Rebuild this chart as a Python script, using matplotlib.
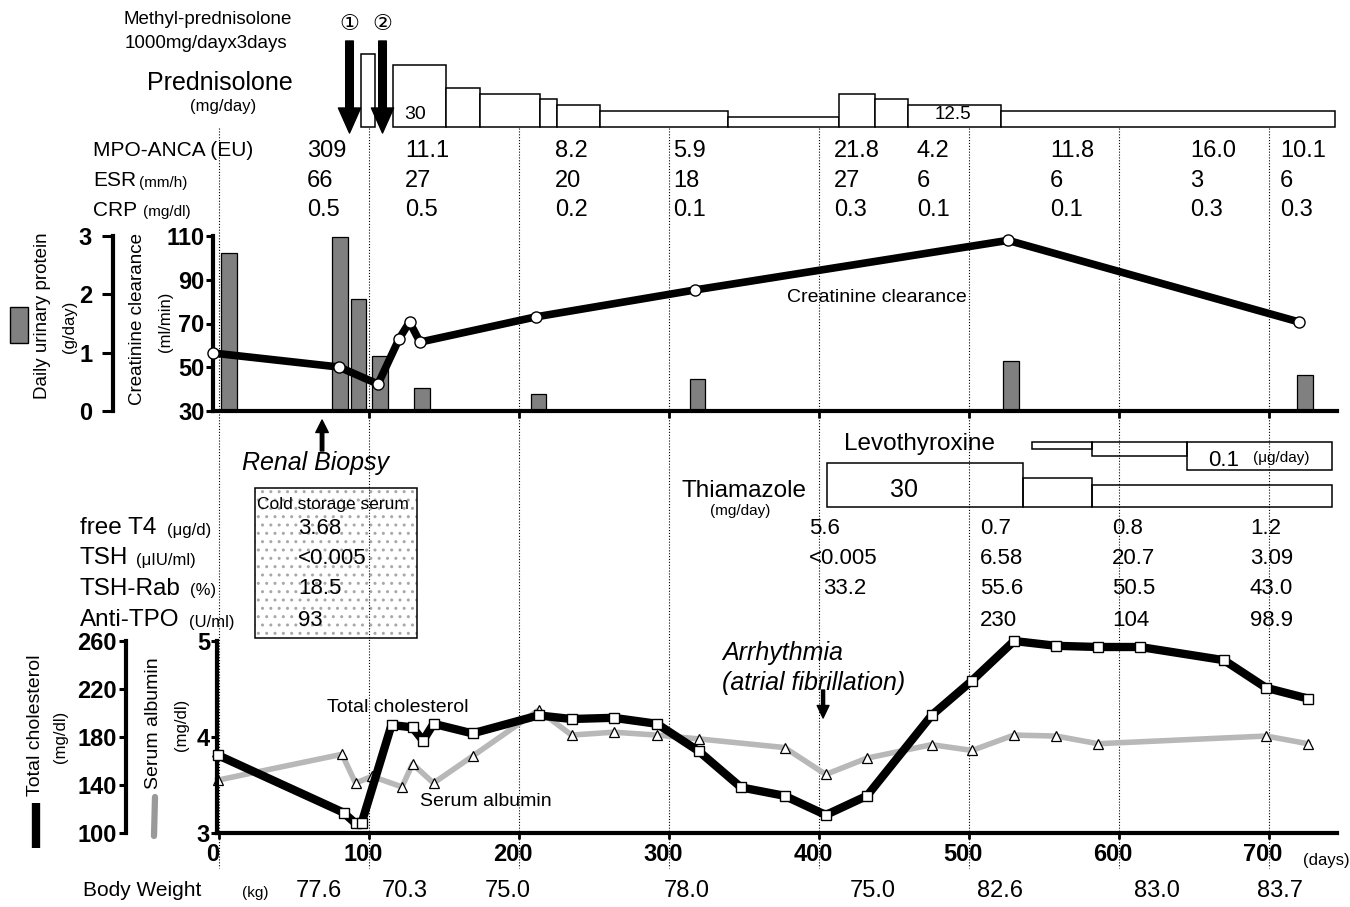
import matplotlib

matplotlib.use("Agg")
import matplotlib.pyplot as plt
from matplotlib.lines import Line2D
from matplotlib.patches import Rectangle
from matplotlib.transforms import ScaledTranslation

plt.rcParams["font.family"] = ["Liberation Sans", "DejaVu Sans", "Noto Sans CJK JP"]

W, H = 1350, 907
XL = (-4, 745.3)            # day range of the shared time axis
GRID_DAYS = [0, 100, 200, 300, 400, 500, 600, 700]

# ---- steroid therapy (days, mg/day) ----
PRED_START = [116, 151, 174, 214, 225, 254, 339, 413, 437, 459, 521]
PRED_END = [151, 174, 214, 225, 254, 339, 413, 437, 459, 521, 744]
PRED_DOSE = [30, 20, 17.5, 15, 12.5, 10, 7.5, 17.5, 15, 12.5, 10]
MP_START, MP_END = 94.7, 104
PULSE_DAYS = [87, 109]
PULSE_MARKS = ["①", "②"]

# ---- vasculitis labs ----
LAB_DAYS = [58.7, 124, 224, 302.7, 410, 465.3, 554, 647.3, 707.3]
MPO = ["309", "11.1", "8.2", "5.9", "21.8", "4.2", "11.8", "16.0", "10.1"]
ESR = ["66", "27", "20", "18", "27", "6", "6", "3", "6"]
CRP = ["0.5", "0.5", "0.2", "0.1", "0.3", "0.1", "0.1", "0.3", "0.3"]

# ---- renal ----
CCR_DAYS = [-4, 80, 106, 120, 127, 134, 211, 317, 526, 720]
CCR = [56.5, 50.1, 42.3, 62.9, 70.7, 61.5, 73, 85.3, 108, 70.7]
PROT_DAYS = [6.7, 80.7, 93, 107.3, 135.3, 213, 319, 528, 724]
PROT = [2.71, 2.98, 1.92, 0.94, 0.39, 0.29, 0.55, 0.86, 0.62]
BIOPSY_DAY = 68.7

# ---- thyroid ----
LEVO_START = [542, 582, 645]
LEVO_END = [582, 645, 742]
LEVO_DOSE = [0.025, 0.05, 0.1]
THIA_START = [405, 536, 582]
THIA_END = [536, 582, 742]
THIA_DOSE = [30, 20, 15]
COLD_DAY = 52.7
COLD = ["3.68", "<0.005", "18.5", "93"]
THY_DAYS = [393.3, 507.3, 595.3, 687.3]
FT4 = ["5.6", "0.7", "0.8", "1.2"]
TSH = ["<0.005", "6.58", "20.7", "3.09"]
TRAB = ["33.2", "55.6", "50.5", "43.0"]
TRAB_DAYS = [403, 507.3, 595.3, 687.3]
TPO = ["", "230", "104", "98.9"]

# ---- cholesterol / albumin ----
CHOL_DAYS = [-1, 83, 91, 95, 115, 129, 136, 143, 169, 213, 235, 263, 292, 320,
             348, 377, 404.5, 432, 475, 502, 530, 558, 586, 614, 670, 698, 726]
CHOL = [165, 117, 108, 108, 190, 188, 177, 191, 183, 198, 195, 196, 191, 168,
        138, 131, 115, 131, 198, 227, 260, 256, 255, 255, 244, 221, 212]
ALB_DAYS = [-1, 82, 91, 102, 122, 129, 143, 169, 213, 235, 263, 292, 320, 377,
            404.5, 432, 475, 502, 530, 558, 586, 698, 726]
ALB = [3.55, 3.82, 3.52, 3.59, 3.48, 3.72, 3.52, 3.80, 4.28, 4.02, 4.05, 4.02,
       3.98, 3.89, 3.61, 3.78, 3.92, 3.86, 4.02, 4.01, 3.93, 4.01, 3.93]
AF_DAY = 402.7

BW_DAYS = [51.3, 108.7, 177.3, 296.7, 420.7, 505.3, 610, 692]
BW = ["77.6", "70.3", "75.0", "78.0", "75.0", "82.6", "83.0", "83.7"]

fig = plt.figure(figsize=(W / 100, H / 100), dpi=100)


def px_axes(left, top, right, bottom):
    return fig.add_axes([left / W, 1 - bottom / H, (right - left) / W, (bottom - top) / H])


def ftext(x, y, s, size, ha="left", **kw):
    fig.text(x / W, 1 - y / H, s, fontsize=size, ha=ha, va="center", **kw)


def fy(y):
    return 1 - y / H


# background layer: x = days, y = pixel rows from the top
bg = px_axes(213, 0, 1337, 907)
bg.set_xlim(XL)
bg.set_ylim(H, 0)
bg.axis("off")
bg.set_zorder(0)
bg.vlines(GRID_DAYS, 128, 868, colors="k", linestyles=(0, (1, 1.6)), lw=0.8)

# ---------------- prednisolone ----------------
pred = px_axes(213, 20, 1337, 127)
pred.set_xlim(XL)
pred.set_ylim(3, 49.5)
pred.axis("off")
pred.set_zorder(3)
MP_DRAW_LEVEL = 34.7   # off-scale pulse box
pred.bar([MP_START], [MP_DRAW_LEVEL - 3], width=MP_END - MP_START, bottom=3, align="edge",
         fc="white", ec="k", lw=1.1, clip_on=False)
pred.bar(PRED_START, [d - 3 for d in PRED_DOSE], width=[e - s for s, e in zip(PRED_START, PRED_END)],
         bottom=3, align="edge", fc="white", ec="k", lw=1.1, clip_on=False)
for d, m in zip(PULSE_DAYS, PULSE_MARKS):
    pred.annotate("", xy=(d, fy(133)), xycoords=("data", "figure fraction"),
                  xytext=(d, fy(41)), textcoords=("data", "figure fraction"),
                  arrowprops=dict(fc="k", ec="k", width=5.5, headwidth=16, headlength=18, shrink=0),
                  annotation_clip=False)
    bg.text(d, 25, m, fontsize=16, ha="center", va="center")
for d, s, size in ((131, "30", 14), (489, "12.5", 13.5)):
    pred.annotate(s, xy=(d, fy(115)), xycoords=("data", "figure fraction"),
                  fontsize=size, ha="center", va="center", annotation_clip=False)

ftext(208, 20, "Methyl-prednisolone", 13.5, ha="center")
ftext(206, 44, "1000mg/dayx3days", 13.5, ha="center")
ftext(220, 83, "Prednisolone", 18, ha="center")
ftext(223, 107, "(mg/day)", 12, ha="center")

# ---------------- lab rows ----------------
ftext(93, 151, "MPO-ANCA (EU)", 15)
ftext(93, 181, "ESR", 15)
ftext(139, 183, "(mm/h)", 11)
ftext(93, 210, "CRP", 15)
ftext(143, 212, "(mg/dl)", 11)
for row, y in ((MPO, 151), (ESR, 181), (CRP, 210)):
    for d, s in zip(LAB_DAYS, row):
        bg.text(d, y, s, fontsize=17, ha="left", va="center")

# ---------------- creatinine clearance / proteinuria ----------------
top = px_axes(213, 236, 1337, 411)
prot = top.twinx()
top.set_xlim(XL)
top.set_ylim(30, 110)
prot.set_ylim(0, 3)
prot.set_zorder(2)
top.set_zorder(4)
top.patch.set_visible(False)
prot.patch.set_visible(False)

prot.bar(PROT_DAYS, PROT, width=10.5, color="#808080", ec="k", lw=0.9)
top.plot(CCR_DAYS, CCR, "-o", color="k", lw=5.5, ms=8, mfc="white", mec="k", mew=1,
         clip_on=False, zorder=3)

for s in ("top", "right"):
    top.spines[s].set_visible(False)
top.spines["left"].set_linewidth(3)
top.spines["bottom"].set_linewidth(3)
top.set_yticks([30, 50, 70, 90, 110])
top.set_xticks(GRID_DAYS[1:])
top.tick_params(axis="y", length=5, width=2.2, pad=1, labelsize=17)
top.tick_params(axis="x", length=5, width=2, labelbottom=False)
for lab in top.get_yticklabels():
    lab.set_fontweight("bold")

for s in ("top", "right", "bottom"):
    prot.spines[s].set_visible(False)
prot.spines["left"].set_visible(True)
prot.spines["left"].set_position(("outward", 72))
prot.spines["left"].set_linewidth(3)
prot.yaxis.set_ticks_position("left")
prot.set_yticks([0, 1, 2, 3])
prot.tick_params(axis="y", length=8, width=2.2, pad=7, labelsize=17)
for lab in prot.get_yticklabels():
    lab.set_fontweight("bold")

fig.add_artist(Rectangle((10 / W, fy(343)), 18 / W, 36 / H, transform=fig.transFigure,
                         fc="#808080", ec="k", lw=1))
ftext(43, 316, "Daily urinary protein", 13.5, ha="center", rotation=90)
ftext(69, 327, "(g/day)", 12, ha="center", rotation=90)
ftext(137, 319, "Creatinine clearance", 13.5, ha="center", rotation=90)
ftext(166, 322, "(ml/min)", 12, ha="center", rotation=90)
ftext(877, 297, "Creatinine clearance", 14, ha="center")

bg.annotate("", xy=(BIOPSY_DAY, 420), xytext=(BIOPSY_DAY, 451),
            arrowprops=dict(fc="k", ec="k", width=2.5, headwidth=9, headlength=9, shrink=0))
ftext(315, 463, "Renal Biopsy", 18, ha="center", style="italic")

# ---------------- thyroid drugs ----------------
levo = px_axes(213, 442, 1337, 470)
levo.set_xlim(XL)
levo.set_ylim(0.1, 0)
levo.axis("off")
levo.bar(LEVO_START, LEVO_DOSE, width=[e - s for s, e in zip(LEVO_START, LEVO_END)], align="edge",
         fc="none", ec="k", lw=1.1, clip_on=False)
thia = px_axes(213, 463, 1337, 507)
thia.set_xlim(XL)
thia.set_ylim(0, 30)
thia.axis("off")
thia.bar(THIA_START, THIA_DOSE, width=[e - s for s, e in zip(THIA_START, THIA_END)], align="edge",
         fc="none", ec="k", lw=1.1, clip_on=False)

ftext(844, 444, "Levothyroxine", 17.5)
ftext(1208, 461, "0.1", 16)
ftext(1253, 458, "(μg/day)", 11)
ftext(806, 491, "Thiamazole", 17.5, ha="right")
ftext(740, 511, "(mg/day)", 11, ha="center")
ftext(904, 490, "30", 18, ha="center")

# ---------------- thyroid labs ----------------
bg.add_patch(Rectangle((24, 488), 108, 150, fill=False, hatch="..", ec="#a8a8a8", lw=0))
bg.add_patch(Rectangle((24, 488), 108, 150, fill=False, ec="k", lw=1.1))
ftext(333, 505, "Cold storage serum", 12.5, ha="center")

thy_rows = [("free T4", "(μg/d)", 167, FT4, THY_DAYS, 528),
            ("TSH", "(μIU/ml)", 136, TSH, THY_DAYS, 558),
            ("TSH-Rab", "(%)", 190, TRAB, TRAB_DAYS, 589),
            ("Anti-TPO", "(U/ml)", 189, TPO, THY_DAYS, 620)]
for (name, unit, ux, vals, days, y), cold in zip(thy_rows, COLD):
    ftext(80, y, name, 17.5)
    ftext(ux, y + 2, unit, 12)
    bg.text(COLD_DAY, y, cold, fontsize=16, ha="left", va="center")
    for d, s in zip(days, vals):
        bg.text(d, y, s, fontsize=16, ha="left", va="center")

# ---------------- cholesterol / albumin ----------------
bot = px_axes(217, 641, 1337, 833)
chol = bot.twinx()
bot.set_xlim(XL[0] + 4 / 1.5, XL[1])
bot.set_ylim(3, 5)
chol.set_ylim(100, 260)
bot.set_zorder(5)
chol.set_zorder(6)
bot.patch.set_visible(False)
chol.patch.set_visible(False)

bot.plot(ALB_DAYS, ALB, "-^", color="#b8b8b8", lw=4, ms=7.5, mfc="white", mec="k", mew=0.9,
         clip_on=False)
chol.plot(CHOL_DAYS, CHOL, "-s", color="k", lw=6, ms=7, mfc="white", mec="k", mew=1,
          clip_on=False)

for s in ("top", "right"):
    bot.spines[s].set_visible(False)
bot.spines["left"].set_linewidth(3)
bot.spines["bottom"].set_linewidth(3)
bot.set_yticks([3, 4, 5])
bot.set_xticks(GRID_DAYS)
bot.tick_params(axis="y", length=4.5, width=2.2, pad=0.5, labelsize=17)
bot.tick_params(axis="x", length=4, width=2, pad=3, labelsize=17)
for lab in bot.get_yticklabels() + bot.get_xticklabels():
    lab.set_fontweight("bold")
for lab in bot.get_xticklabels():
    lab.set_transform(lab.get_transform() + ScaledTranslation(-6 / 100, 0, fig.dpi_scale_trans))

for s in ("top", "right", "bottom"):
    chol.spines[s].set_visible(False)
chol.spines["left"].set_visible(True)
chol.spines["left"].set_position(("outward", 65.5))
chol.spines["left"].set_linewidth(3)
chol.yaxis.set_ticks_position("left")
chol.set_yticks([100, 140, 180, 220, 260])
chol.tick_params(axis="y", length=5, width=2.2, pad=1.5, labelsize=17)
for lab in chol.get_yticklabels():
    lab.set_fontweight("bold")

fig.add_artist(Line2D([36 / W, 36 / W], [fy(803), fy(848)], transform=fig.transFigure,
                      color="k", lw=6, solid_capstyle="butt"))
fig.add_artist(Line2D([155 / W, 154 / W], [fy(797), fy(836)], transform=fig.transFigure,
                      color="#9a9a9a", lw=4.5, solid_capstyle="round"))
ftext(36, 725, "Total cholesterol", 14, ha="center", rotation=90)
ftext(61, 737, "(mg/dl)", 12, ha="center", rotation=90)
ftext(153, 723, "Serum albumin", 14, ha="center", rotation=90)
ftext(182, 725, "(mg/dl)", 12, ha="center", rotation=90)
ftext(398, 707, "Total cholesterol", 14, ha="center")
ftext(486, 802, "Serum albumin", 14, ha="center")
ftext(1303, 860, "(days)", 12)

bg.annotate("", xy=(AF_DAY, 718), xytext=(AF_DAY, 690),
            arrowprops=dict(fc="k", ec="k", width=2.2, headwidth=8.5, headlength=9, shrink=0))
ftext(722, 653, "Arrhythmia", 18, style="italic")
ftext(722, 683, "(atrial fibrillation)", 18, style="italic")

# ---------------- body weight ----------------
ftext(83, 891, "Body Weight", 15)
ftext(242, 893, "(kg)", 11)
for d, s in zip(BW_DAYS, BW):
    bg.text(d, 891, s, fontsize=17, ha="left", va="center")

fig.savefig("out.png", dpi=100)
